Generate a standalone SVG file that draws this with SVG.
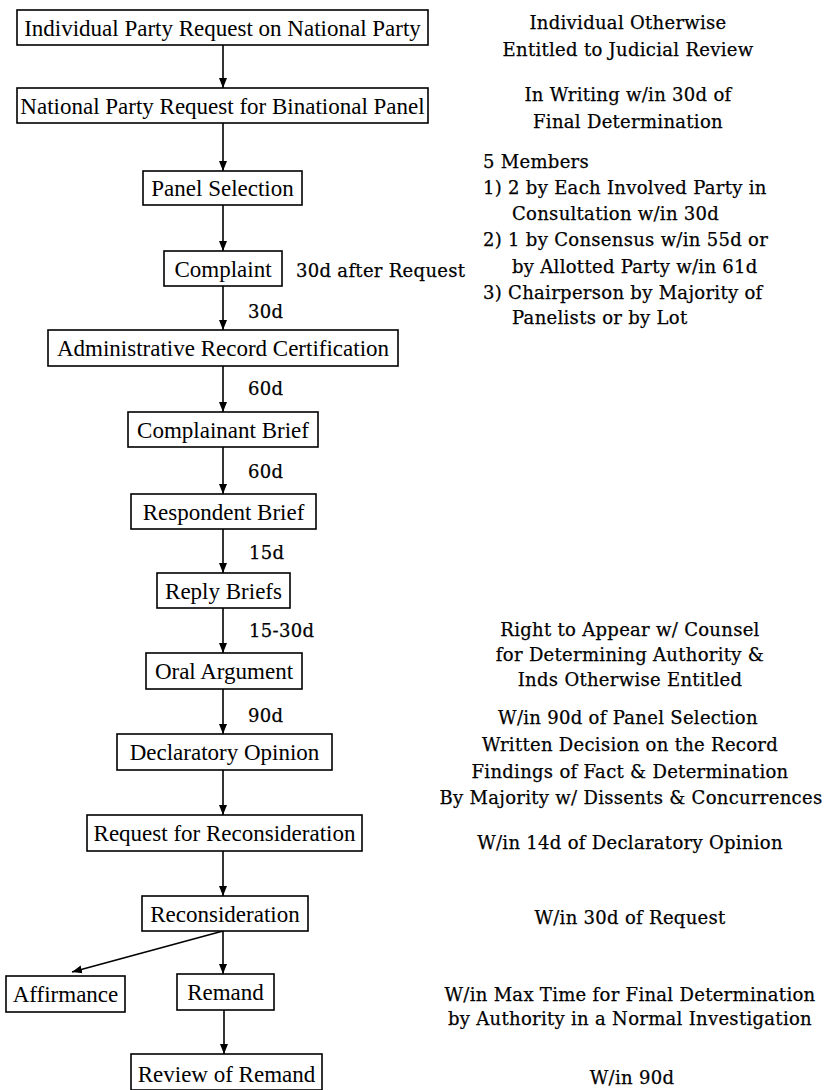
<svg xmlns="http://www.w3.org/2000/svg" width="825" height="1090" viewBox="0 0 825 1090">
<defs>
<style>
.box rect{fill:#fff;stroke:#000;stroke-width:1.6}
.box text{font-family:"Liberation Serif","Times New Roman",serif;font-size:23px;fill:#000;text-anchor:middle}
.note{font-family:"DejaVu Serif",serif;font-size:18px;fill:#000;stroke:#000;stroke-width:0.25px;letter-spacing:0.3px}
.c{text-anchor:middle}
.edge{stroke:#000;stroke-width:1.6;fill:none;marker-end:url(#ah)}
</style>
<marker id="ah" viewBox="0 0 10 10" refX="10" refY="5" markerWidth="10" markerHeight="10" markerUnits="userSpaceOnUse" orient="auto">
<path d="M0,1 L10,5 L0,9 Z" fill="#000"/>
</marker>
</defs>
<rect width="825" height="1090" fill="#fff"/>
<g id="connectors">
<line class="edge" x1="223" y1="45" x2="223" y2="88"/>
<line class="edge" x1="223" y1="123" x2="223" y2="171"/>
<line class="edge" x1="223" y1="205" x2="223" y2="251"/>
<line class="edge" x1="223" y1="286" x2="223" y2="330"/>
<line class="edge" x1="223" y1="366" x2="223" y2="412"/>
<line class="edge" x1="223" y1="447" x2="223" y2="494"/>
<line class="edge" x1="223" y1="529" x2="223" y2="573"/>
<line class="edge" x1="223" y1="608" x2="223" y2="653"/>
<line class="edge" x1="223" y1="689" x2="223" y2="734"/>
<line class="edge" x1="223" y1="770" x2="223" y2="815"/>
<line class="edge" x1="223" y1="851" x2="223" y2="896"/>
<line class="edge" x1="223" y1="931" x2="223" y2="974"/>
<line class="edge" x1="223" y1="931" x2="72" y2="972"/>
<line class="edge" x1="224" y1="1010" x2="224" y2="1054"/>
</g>
<g id="n1" class="box"><rect x="17" y="10" width="411" height="35"/><text x="222.5" y="36">Individual Party Request on National Party</text></g>
<g id="n2" class="box"><rect x="17" y="88" width="411" height="35"/><text x="222.5" y="114">National Party Request for Binational Panel</text></g>
<g id="n3" class="box"><rect x="143" y="171" width="159" height="34"/><text x="222.5" y="196">Panel Selection</text></g>
<g id="n4" class="box"><rect x="164" y="251" width="118" height="35"/><text x="223" y="277">Complaint</text></g>
<g id="n5" class="box"><rect x="48" y="330" width="350" height="36"/><text x="223" y="356">Administrative Record Certification</text></g>
<g id="n6" class="box"><rect x="128" y="412" width="190" height="35"/><text x="223" y="438">Complainant Brief</text></g>
<g id="n7" class="box"><rect x="131" y="494" width="185" height="35"/><text x="223.5" y="520">Respondent Brief</text></g>
<g id="n8" class="box"><rect x="157" y="573" width="133" height="35"/><text x="223.5" y="599">Reply Briefs</text></g>
<g id="n9" class="box"><rect x="146" y="653" width="156" height="36"/><text x="224" y="679">Oral Argument</text></g>
<g id="n10" class="box"><rect x="117" y="734" width="215" height="36"/><text x="224.5" y="760">Declaratory Opinion</text></g>
<g id="n11" class="box"><rect x="87" y="815" width="275" height="36"/><text x="224.5" y="841">Request for Reconsideration</text></g>
<g id="n12" class="box"><rect x="142" y="896" width="166" height="35"/><text x="225" y="922">Reconsideration</text></g>
<g id="n13" class="box"><rect x="6" y="976" width="119" height="36"/><text x="65.5" y="1002">Affirmance</text></g>
<g id="n14" class="box"><rect x="177" y="974" width="97" height="36"/><text x="225.5" y="1000">Remand</text></g>
<g id="n15" class="box"><rect x="131" y="1054" width="191" height="36"/><text x="226.5" y="1082">Review of Remand</text></g>
<g id="labels" class="note">
<text x="248" y="318">30d</text>
<text x="248" y="395">60d</text>
<text x="248" y="478">60d</text>
<text x="249" y="559">15d</text>
<text x="249" y="637">15-30d</text>
<text x="248" y="722">90d</text>
<text x="296" y="277">30d after Request</text>
</g>
<g id="notes" class="note">
<text class="c" x="628" y="29">Individual Otherwise</text>
<text class="c" x="628" y="56">Entitled to Judicial Review</text>
<text class="c" x="628" y="101">In Writing w/in 30d of</text>
<text class="c" x="628" y="128">Final Determination</text>
<text x="483" y="168">5 Members</text>
<text x="483" y="194">1) 2 by Each Involved Party in</text>
<text x="512" y="220">Consultation w/in 30d</text>
<text x="483" y="246">2) 1 by Consensus w/in 55d or</text>
<text x="512" y="273">by Allotted Party w/in 61d</text>
<text x="483" y="299">3) Chairperson by Majority of</text>
<text x="512" y="324">Panelists or by Lot</text>
<text class="c" x="630" y="636">Right to Appear w/ Counsel</text>
<text class="c" x="630" y="661">for Determining Authority &amp;</text>
<text class="c" x="630" y="686">Inds Otherwise Entitled</text>
<text class="c" x="628" y="724">W/in 90d of Panel Selection</text>
<text class="c" x="630" y="751">Written Decision on the Record</text>
<text class="c" x="630" y="778">Findings of Fact &amp; Determination</text>
<text class="c" x="631" y="804">By Majority w/ Dissents &amp; Concurrences</text>
<text class="c" x="630" y="849">W/in 14d of Declaratory Opinion</text>
<text class="c" x="630" y="924">W/in 30d of Request</text>
<text class="c" x="630" y="1001">W/in Max Time for Final Determination</text>
<text class="c" x="630" y="1025">by Authority in a Normal Investigation</text>
<text class="c" x="632" y="1084">W/in 90d</text>
</g>
</svg>
